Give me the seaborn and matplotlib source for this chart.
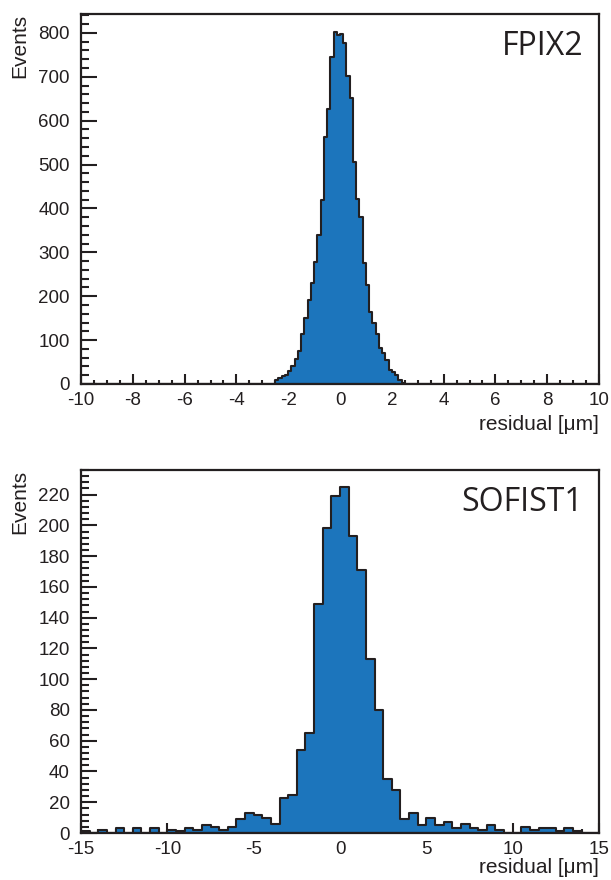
import numpy as np
import pandas as pd
import matplotlib
matplotlib.use("Agg")
import matplotlib.pyplot as plt
from matplotlib.ticker import MultipleLocator
import seaborn as sns

# --- data ---
# FPIX2: 0.125 um bins, only the non-empty part (-2.5 .. 2.5) listed
fpix_start = -2.5
fpix_width = 0.125
fpix_counts = [9, 14, 18, 20, 30, 41, 58, 75, 115, 151, 192, 229, 279, 339, 419, 562,
               626, 744, 803, 795, 797, 776, 702, 651, 506, 421, 381, 275, 226, 165,
               138, 115, 81, 70, 55, 32, 28, 21, 9, 3]

# SOFIST1: 0.5 um bins from -15 to 15
sofist_start = -15
sofist_width = 0.5
sofist_counts = [1, 0, 2, 0, 3, 0, 3, 0, 3, 0, 2, 1, 3, 2, 5, 4, 2, 4, 9, 13,
                 12, 10, 6, 23, 25, 54, 65, 149, 198, 219, 225, 193, 171, 113, 80, 35,
                 28, 9, 13, 5, 10, 5, 7, 3, 6, 3, 2, 5, 2, 0, 0, 4, 2, 3, 3,
                 1, 3, 1, 0, 0]

panels = [
    dict(name="FPIX2", start=fpix_start, width=fpix_width, counts=fpix_counts,
         xlim=(-10, 10), ylim=(0, 843), xmaj=2, xmin=0.5, ymaj=100, ymin=20),
    dict(name="SOFIST1", start=sofist_start, width=sofist_width, counts=sofist_counts,
         xlim=(-15, 15), ylim=(0, 236), xmaj=5, xmin=1, ymaj=20, ymin=4),
]

sns.set_style("ticks")
plt.rcParams['font.family'] = ['Liberation Sans', 'DejaVu Sans']
plt.rcParams['axes.unicode_minus'] = False

fill_col = "#1c75bc"
line_col = "#231f20"

fig = plt.figure(figsize=(6.11, 8.8), dpi=100)
W, H = 611, 880
boxes = [(81, 14, 599, 384), (81, 470, 599, 833)]
xlabel_gap = [41, 34]

for p, (x0, y0, x1, y1), gap in zip(panels, boxes, xlabel_gap):
    ax = fig.add_axes([x0 / W, 1 - y1 / H, (x1 - x0) / W, (y1 - y0) / H])

    n = len(p["counts"])
    centers = p["start"] + p["width"] * (np.arange(n) + 0.5)
    df = pd.DataFrame({"residual": centers, "events": p["counts"]})
    edges = list(np.arange(p["xlim"][0], p["xlim"][1] + p["width"] / 2, p["width"]))

    sns.histplot(data=df, x="residual", weights="events", bins=edges,
                 element="step", fill=True, color=fill_col, alpha=1,
                 edgecolor=line_col, linewidth=1.5, ax=ax)

    ax.set_xlim(*p["xlim"])
    ax.set_ylim(*p["ylim"])
    ax.set_xlabel("")
    ax.set_ylabel("")
    ax.xaxis.set_major_locator(MultipleLocator(p["xmaj"]))
    ax.xaxis.set_minor_locator(MultipleLocator(p["xmin"]))
    ax.yaxis.set_major_locator(MultipleLocator(p["ymaj"]))
    ax.yaxis.set_minor_locator(MultipleLocator(p["ymin"]))

    for s in ax.spines.values():
        s.set_linewidth(1.6)
        s.set_color(line_col)
    ax.tick_params(which="both", direction="in", top=False, right=False,
                   color=line_col, width=1.5, labelsize=13.5, labelcolor="#231f20")
    ax.tick_params(axis="y", which="major", length=11.5, pad=8)
    ax.tick_params(axis="y", which="minor", length=6)
    ax.tick_params(axis="x", which="major", length=7.5, pad=6)
    ax.tick_params(axis="x", which="minor", length=3.2)

    h = y1 - y0
    ax.text(0.97, 1 - 41 / h, p["name"], transform=ax.transAxes, ha="right",
            va="baseline", fontsize=23, family="Open Sans", color="#231f20")

    fig.text(20 / W, 1 - y0 / H, "Events", rotation=90, ha="center", va="top",
             fontsize=15, color="#231f20")
    fig.text(x1 / W, 1 - (y1 + gap) / H, "residual [\u03bcm]", ha="right", va="center",
             fontsize=15, color="#231f20")

fig.savefig("out.png", dpi=100)
